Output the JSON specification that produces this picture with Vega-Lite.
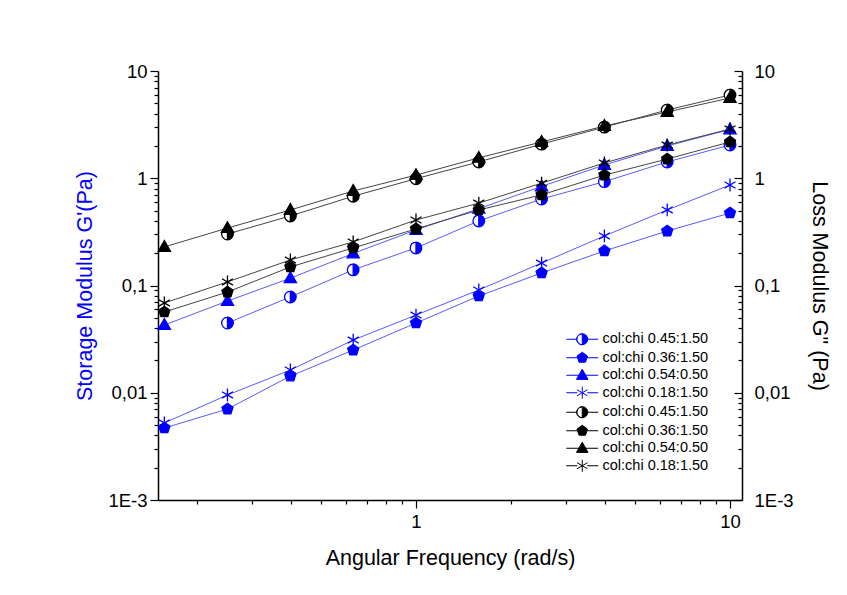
{
  "$schema": "https://vega.github.io/schema/vega-lite/v6.json",
  "width": 584,
  "height": 429,
  "autosize": "none",
  "padding": {"left": 158, "top": 71, "right": 105, "bottom": 95},
  "background": "white",
  "data": {
    "values": [
      {"f": 0.251, "m": "Gp", "s": "1|0.45:1.50", "v": 0.0447},
      {"f": 0.398, "m": "Gp", "s": "1|0.45:1.50", "v": 0.0782},
      {"f": 0.631, "m": "Gp", "s": "1|0.45:1.50", "v": 0.14},
      {"f": 1.0, "m": "Gp", "s": "1|0.45:1.50", "v": 0.224},
      {"f": 1.585, "m": "Gp", "s": "1|0.45:1.50", "v": 0.40},
      {"f": 2.512, "m": "Gp", "s": "1|0.45:1.50", "v": 0.64},
      {"f": 3.981, "m": "Gp", "s": "1|0.45:1.50", "v": 0.93},
      {"f": 6.31, "m": "Gp", "s": "1|0.45:1.50", "v": 1.42},
      {"f": 10.0, "m": "Gp", "s": "1|0.45:1.50", "v": 2.04},

      {"f": 0.158, "m": "Gp", "s": "2|0.36:1.50", "v": 0.00469},
      {"f": 0.251, "m": "Gp", "s": "2|0.36:1.50", "v": 0.00705},
      {"f": 0.398, "m": "Gp", "s": "2|0.36:1.50", "v": 0.0143},
      {"f": 0.631, "m": "Gp", "s": "2|0.36:1.50", "v": 0.025},
      {"f": 1.0, "m": "Gp", "s": "2|0.36:1.50", "v": 0.0447},
      {"f": 1.585, "m": "Gp", "s": "2|0.36:1.50", "v": 0.0798},
      {"f": 2.512, "m": "Gp", "s": "2|0.36:1.50", "v": 0.131},
      {"f": 3.981, "m": "Gp", "s": "2|0.36:1.50", "v": 0.21},
      {"f": 6.31, "m": "Gp", "s": "2|0.36:1.50", "v": 0.322},
      {"f": 10.0, "m": "Gp", "s": "2|0.36:1.50", "v": 0.474},

      {"f": 0.158, "m": "Gp", "s": "3|0.54:0.50", "v": 0.0428},
      {"f": 0.251, "m": "Gp", "s": "3|0.54:0.50", "v": 0.0716},
      {"f": 0.398, "m": "Gp", "s": "3|0.54:0.50", "v": 0.117},
      {"f": 0.631, "m": "Gp", "s": "3|0.54:0.50", "v": 0.199},
      {"f": 1.0, "m": "Gp", "s": "3|0.54:0.50", "v": 0.33},
      {"f": 1.585, "m": "Gp", "s": "3|0.54:0.50", "v": 0.52},
      {"f": 2.512, "m": "Gp", "s": "3|0.54:0.50", "v": 0.84},
      {"f": 3.981, "m": "Gp", "s": "3|0.54:0.50", "v": 1.33},
      {"f": 6.31, "m": "Gp", "s": "3|0.54:0.50", "v": 2.0},
      {"f": 10.0, "m": "Gp", "s": "3|0.54:0.50", "v": 2.85},

      {"f": 0.158, "m": "Gp", "s": "4|0.18:1.50", "v": 0.00523},
      {"f": 0.251, "m": "Gp", "s": "4|0.18:1.50", "v": 0.00953},
      {"f": 0.398, "m": "Gp", "s": "4|0.18:1.50", "v": 0.0163},
      {"f": 0.631, "m": "Gp", "s": "4|0.18:1.50", "v": 0.031},
      {"f": 1.0, "m": "Gp", "s": "4|0.18:1.50", "v": 0.053},
      {"f": 1.585, "m": "Gp", "s": "4|0.18:1.50", "v": 0.0908},
      {"f": 2.512, "m": "Gp", "s": "4|0.18:1.50", "v": 0.162},
      {"f": 3.981, "m": "Gp", "s": "4|0.18:1.50", "v": 0.29},
      {"f": 6.31, "m": "Gp", "s": "4|0.18:1.50", "v": 0.506},
      {"f": 10.0, "m": "Gp", "s": "4|0.18:1.50", "v": 0.865},

      {"f": 0.251, "m": "Gpp", "s": "5|0.45:1.50", "v": 0.302},
      {"f": 0.398, "m": "Gpp", "s": "5|0.45:1.50", "v": 0.445},
      {"f": 0.631, "m": "Gpp", "s": "5|0.45:1.50", "v": 0.68},
      {"f": 1.0, "m": "Gpp", "s": "5|0.45:1.50", "v": 0.99},
      {"f": 1.585, "m": "Gpp", "s": "5|0.45:1.50", "v": 1.42},
      {"f": 2.512, "m": "Gpp", "s": "5|0.45:1.50", "v": 2.08},
      {"f": 3.981, "m": "Gpp", "s": "5|0.45:1.50", "v": 3.0},
      {"f": 6.31, "m": "Gpp", "s": "5|0.45:1.50", "v": 4.33},
      {"f": 10.0, "m": "Gpp", "s": "5|0.45:1.50", "v": 5.97},

      {"f": 0.158, "m": "Gpp", "s": "6|0.36:1.50", "v": 0.0566},
      {"f": 0.251, "m": "Gpp", "s": "6|0.36:1.50", "v": 0.0869},
      {"f": 0.398, "m": "Gpp", "s": "6|0.36:1.50", "v": 0.149},
      {"f": 0.631, "m": "Gpp", "s": "6|0.36:1.50", "v": 0.224},
      {"f": 1.0, "m": "Gpp", "s": "6|0.36:1.50", "v": 0.337},
      {"f": 1.585, "m": "Gpp", "s": "6|0.36:1.50", "v": 0.506},
      {"f": 2.512, "m": "Gpp", "s": "6|0.36:1.50", "v": 0.70},
      {"f": 3.981, "m": "Gpp", "s": "6|0.36:1.50", "v": 1.07},
      {"f": 6.31, "m": "Gpp", "s": "6|0.36:1.50", "v": 1.51},
      {"f": 10.0, "m": "Gpp", "s": "6|0.36:1.50", "v": 2.18},

      {"f": 0.158, "m": "Gpp", "s": "7|0.54:0.50", "v": 0.229},
      {"f": 0.251, "m": "Gpp", "s": "7|0.54:0.50", "v": 0.343},
      {"f": 0.398, "m": "Gpp", "s": "7|0.54:0.50", "v": 0.506},
      {"f": 0.631, "m": "Gpp", "s": "7|0.54:0.50", "v": 0.76},
      {"f": 1.0, "m": "Gpp", "s": "7|0.54:0.50", "v": 1.07},
      {"f": 1.585, "m": "Gpp", "s": "7|0.54:0.50", "v": 1.55},
      {"f": 2.512, "m": "Gpp", "s": "7|0.54:0.50", "v": 2.18},
      {"f": 3.981, "m": "Gpp", "s": "7|0.54:0.50", "v": 3.07},
      {"f": 6.31, "m": "Gpp", "s": "7|0.54:0.50", "v": 4.15},
      {"f": 10.0, "m": "Gpp", "s": "7|0.54:0.50", "v": 5.6},

      {"f": 0.158, "m": "Gpp", "s": "8|0.18:1.50", "v": 0.0687},
      {"f": 0.251, "m": "Gpp", "s": "8|0.18:1.50", "v": 0.108},
      {"f": 0.398, "m": "Gpp", "s": "8|0.18:1.50", "v": 0.173},
      {"f": 0.631, "m": "Gpp", "s": "8|0.18:1.50", "v": 0.255},
      {"f": 1.0, "m": "Gpp", "s": "8|0.18:1.50", "v": 0.408},
      {"f": 1.585, "m": "Gpp", "s": "8|0.18:1.50", "v": 0.587},
      {"f": 2.512, "m": "Gpp", "s": "8|0.18:1.50", "v": 0.90},
      {"f": 3.981, "m": "Gpp", "s": "8|0.18:1.50", "v": 1.39},
      {"f": 6.31, "m": "Gpp", "s": "8|0.18:1.50", "v": 2.04},
      {"f": 10.0, "m": "Gpp", "s": "8|0.18:1.50", "v": 2.88}
    ]
  },
  "config": {
    "view": {"stroke": null},
    "font": "Liberation Sans",
    "axis": {
      "grid": false,
      "domainColor": "black",
      "domainWidth": 1.5,
      "tickColor": "black",
      "tickWidth": 1.2,
      "labelColor": "black",
      "labelFont": "Liberation Sans",
      "labelFontSize": 18.5,
      "titleFont": "Liberation Sans",
      "titleFontSize": 21.5,
      "titleFontWeight": "normal",
      "titleColor": "black",
      "labelOverlap": false,
      "labelBound": false
    }
  },
  "encoding": {
    "x": {
      "field": "f",
      "type": "quantitative",
      "scale": {"type": "log", "domain": [0.1508, 10.92], "nice": false},
      "axis": {
        "orient": "bottom",
        "title": "Angular Frequency (rad/s)",
        "titlePadding": 17,
        "labelPadding": 4,
        "values": [0.2, 0.3, 0.4, 0.5, 0.6, 0.7, 0.8, 0.9, 1, 2, 3, 4, 5, 6, 7, 8, 9, 10],
        "labelExpr": "abs(datum.value-1)<1e-9 ? '1' : abs(datum.value-10)<1e-9 ? '10' : ''",
        "tickSize": {"condition": {"test": "abs(log(datum.value)/LN10 - round(log(datum.value)/LN10)) < 0.001", "value": 8}, "value": 4}
      }
    }
  },
  "layer": [
    {
      "transform": [{"filter": "datum.m == 'Gp'"}],
      "encoding": {
        "y": {
          "field": "v",
          "type": "quantitative",
          "scale": {"type": "log", "domain": [0.001, 10], "nice": false},
          "axis": {
            "orient": "left",
            "title": "Storage Modulus G'(Pa)",
            "titleColor": "#0000ff",
            "titlePadding": 11,
            "labelPadding": 3,
            "values": [0.001, 0.002, 0.003, 0.004, 0.005, 0.006, 0.007, 0.008, 0.009, 0.01, 0.02, 0.03, 0.04, 0.05, 0.06, 0.07, 0.08, 0.09, 0.1, 0.2, 0.3, 0.4, 0.5, 0.6, 0.7, 0.8, 0.9, 1, 2, 3, 4, 5, 6, 7, 8, 9, 10],
            "labelExpr": "abs(datum.value-10)<1e-9 ? '10' : abs(datum.value-1)<1e-9 ? '1' : abs(datum.value-0.1)<1e-9 ? '0,1' : abs(datum.value-0.01)<1e-9 ? '0,01' : abs(datum.value-0.001)<1e-9 ? '1E-3' : ''",
            "tickSize": {"condition": {"test": "abs(log(datum.value)/LN10 - round(log(datum.value)/LN10)) < 0.001", "value": 8}, "value": 4}
          }
        }
      },
      "layer": [
        {
          "mark": {"type": "line", "color": "#5a5aff", "strokeWidth": 1},
          "encoding": {"detail": {"field": "s"}}
        },
        {
          "transform": [{"filter": "indexof(datum.s, '0.45') >= 0"}],
          "mark": {"type": "point", "shape": "circle", "filled": true, "color": "white", "opacity": 1, "size": 135},
          "encoding": {}
        },
        {
          "mark": {"type": "point", "filled": true, "opacity": 1, "size": 135, "strokeWidth": 1.3, "stroke": "#0000ff"},
          "encoding": {
            "color": {
              "field": "s", "type": "nominal", "legend": null,
              "scale": {"domain": ["1|0.45:1.50", "2|0.36:1.50", "3|0.54:0.50", "4|0.18:1.50", "5|0.45:1.50", "6|0.36:1.50", "7|0.54:0.50", "8|0.18:1.50"],
                        "range": ["#0000ff", "#0000ff", "#0000ff", "#0000ff", "#000000", "#000000", "#000000", "#000000"]}
            },
            "shape": {
              "field": "s", "type": "nominal", "legend": null,
              "scale": {"domain": ["1|0.45:1.50", "2|0.36:1.50", "3|0.54:0.50", "4|0.18:1.50", "5|0.45:1.50", "6|0.36:1.50", "7|0.54:0.50", "8|0.18:1.50"],
                        "range": ["M0,-1A1,1 0 0,1 0,1Z M0,-1A1,1 0 0,0 0,1A1,1 0 0,1 0,-1", "M0,-1L0.951,-0.309L0.588,0.809L-0.588,0.809L-0.951,-0.309Z", "M0,-1.1L1.05,0.75L-1.05,0.75Z", "M0,-1.1V1.1M-0.95,-0.55L0.95,0.55M-0.95,0.55L0.95,-0.55", "M0,-1A1,1 0 0,1 0,1Z M0,-1A1,1 0 0,0 0,1A1,1 0 0,1 0,-1", "M0,-1L0.951,-0.309L0.588,0.809L-0.588,0.809L-0.951,-0.309Z", "M0,-1.1L1.05,0.75L-1.05,0.75Z", "M0,-1.1V1.1M-0.95,-0.55L0.95,0.55M-0.95,0.55L0.95,-0.55"]}
            }
          }
        }
      ]
    },
    {
      "transform": [{"filter": "datum.m == 'Gpp'"}],
      "encoding": {
        "y": {
          "field": "v",
          "type": "quantitative",
          "scale": {"type": "log", "domain": [0.001, 10], "nice": false},
          "axis": {
            "orient": "right",
            "title": "Loss Modulus G\" (Pa)",
            "titlePadding": 14,
            "labelPadding": 20,
            "values": [0.001, 0.002, 0.003, 0.004, 0.005, 0.006, 0.007, 0.008, 0.009, 0.01, 0.02, 0.03, 0.04, 0.05, 0.06, 0.07, 0.08, 0.09, 0.1, 0.2, 0.3, 0.4, 0.5, 0.6, 0.7, 0.8, 0.9, 1, 2, 3, 4, 5, 6, 7, 8, 9, 10],
            "labelExpr": "abs(datum.value-10)<1e-9 ? '10' : abs(datum.value-1)<1e-9 ? '1' : abs(datum.value-0.1)<1e-9 ? '0,1' : abs(datum.value-0.01)<1e-9 ? '0,01' : abs(datum.value-0.001)<1e-9 ? '1E-3' : ''",
            "tickSize": {"condition": {"test": "abs(log(datum.value)/LN10 - round(log(datum.value)/LN10)) < 0.001", "value": -8}, "value": -4}
          }
        }
      },
      "layer": [
        {
          "mark": {"type": "line", "color": "#444444", "strokeWidth": 1},
          "encoding": {"detail": {"field": "s"}}
        },
        {
          "transform": [{"filter": "indexof(datum.s, '0.45') >= 0"}],
          "mark": {"type": "point", "shape": "circle", "filled": true, "color": "white", "opacity": 1, "size": 135},
          "encoding": {}
        },
        {
          "mark": {"type": "point", "filled": true, "opacity": 1, "size": 135, "strokeWidth": 1.3, "stroke": "#000000"},
          "encoding": {
            "color": {
              "field": "s", "type": "nominal", "legend": null,
              "scale": {"domain": ["1|0.45:1.50", "2|0.36:1.50", "3|0.54:0.50", "4|0.18:1.50", "5|0.45:1.50", "6|0.36:1.50", "7|0.54:0.50", "8|0.18:1.50"],
                        "range": ["#0000ff", "#0000ff", "#0000ff", "#0000ff", "#000000", "#000000", "#000000", "#000000"]}
            },
            "shape": {
              "field": "s", "type": "nominal", "legend": null,
              "scale": {"domain": ["1|0.45:1.50", "2|0.36:1.50", "3|0.54:0.50", "4|0.18:1.50", "5|0.45:1.50", "6|0.36:1.50", "7|0.54:0.50", "8|0.18:1.50"],
                        "range": ["M0,-1A1,1 0 0,1 0,1Z M0,-1A1,1 0 0,0 0,1A1,1 0 0,1 0,-1", "M0,-1L0.951,-0.309L0.588,0.809L-0.588,0.809L-0.951,-0.309Z", "M0,-1.1L1.05,0.75L-1.05,0.75Z", "M0,-1.1V1.1M-0.95,-0.55L0.95,0.55M-0.95,0.55L0.95,-0.55", "M0,-1A1,1 0 0,1 0,1Z M0,-1A1,1 0 0,0 0,1A1,1 0 0,1 0,-1", "M0,-1L0.951,-0.309L0.588,0.809L-0.588,0.809L-0.951,-0.309Z", "M0,-1.1L1.05,0.75L-1.05,0.75Z", "M0,-1.1V1.1M-0.95,-0.55L0.95,0.55M-0.95,0.55L0.95,-0.55"]}
            }
          }
        }
      ]
    },
    {
      "transform": [{"filter": "false"}],
      "mark": {"type": "point", "filled": true, "opacity": 1, "size": 121},
      "encoding": {
        "color": {
          "field": "s", "type": "nominal",
          "scale": {"domain": ["1|0.45:1.50", "2|0.36:1.50", "3|0.54:0.50", "4|0.18:1.50", "5|0.45:1.50", "6|0.36:1.50", "7|0.54:0.50", "8|0.18:1.50"],
                    "range": ["#0000ff", "#0000ff", "#0000ff", "#0000ff", "#000000", "#000000", "#000000", "#000000"]},
          "legend": {
            "orient": "none", "legendX": 417, "legendY": 261, "title": null, "padding": 0,
            "symbolSize": 121, "symbolStrokeWidth": 1, "symbolOpacity": 1, "labelFontSize": 14.5, "labelOffset": 13, "rowPadding": 2.5, "labelLimit": 300,
            "labelExpr": "'col:chi ' + split(datum.label, '|')[1]"
          }
        },
        "shape": {
          "field": "s", "type": "nominal",
          "scale": {"domain": ["1|0.45:1.50", "2|0.36:1.50", "3|0.54:0.50", "4|0.18:1.50", "5|0.45:1.50", "6|0.36:1.50", "7|0.54:0.50", "8|0.18:1.50"],
                    "range": [
                      "M0,-1A1,1 0 0,1 0,1Z M0,-1A1,1 0 0,0 0,1A1,1 0 0,1 0,-1 M-2.9,0H-1M1,0H2.9",
                      "M0,-1L0.951,-0.309L0.588,0.809L-0.588,0.809L-0.951,-0.309Z M-2.9,0H-0.8M0.8,0H2.9",
                      "M0,-1.1L1.05,0.75L-1.05,0.75Z M-2.9,0H-0.5M0.5,0H2.9",
                      "M0,-1.1V1.1M-0.95,-0.55L0.95,0.55M-0.95,0.55L0.95,-0.55 M-2.9,0H-0.9M0.9,0H2.9",
                      "M0,-1A1,1 0 0,1 0,1Z M0,-1A1,1 0 0,0 0,1A1,1 0 0,1 0,-1 M-2.9,0H-1M1,0H2.9",
                      "M0,-1L0.951,-0.309L0.588,0.809L-0.588,0.809L-0.951,-0.309Z M-2.9,0H-0.8M0.8,0H2.9",
                      "M0,-1.1L1.05,0.75L-1.05,0.75Z M-2.9,0H-0.5M0.5,0H2.9",
                      "M0,-1.1V1.1M-0.95,-0.55L0.95,0.55M-0.95,0.55L0.95,-0.55 M-2.9,0H-0.9M0.9,0H2.9"
                    ]},
          "legend": {
            "orient": "none", "legendX": 417, "legendY": 261, "title": null, "padding": 0,
            "symbolSize": 121, "symbolStrokeWidth": 1, "symbolOpacity": 1, "labelFontSize": 14.5, "labelOffset": 13, "rowPadding": 2.5, "labelLimit": 300,
            "labelExpr": "'col:chi ' + split(datum.label, '|')[1]"
          }
        },
        "stroke": {
          "field": "s", "type": "nominal",
          "scale": {"domain": ["1|0.45:1.50", "2|0.36:1.50", "3|0.54:0.50", "4|0.18:1.50", "5|0.45:1.50", "6|0.36:1.50", "7|0.54:0.50", "8|0.18:1.50"],
                    "range": ["#0000ff", "#0000ff", "#0000ff", "#0000ff", "#000000", "#000000", "#000000", "#000000"]},
          "legend": {
            "orient": "none", "legendX": 417, "legendY": 261, "title": null, "padding": 0,
            "symbolSize": 121, "symbolStrokeWidth": 1, "symbolOpacity": 1, "labelFontSize": 14.5, "labelOffset": 13, "rowPadding": 2.5, "labelLimit": 300,
            "labelExpr": "'col:chi ' + split(datum.label, '|')[1]"
          }
        }
      }
    }
  ],
  "resolve": {"scale": {"y": "independent", "shape": "independent", "color": "independent", "stroke": "independent"}}
}
